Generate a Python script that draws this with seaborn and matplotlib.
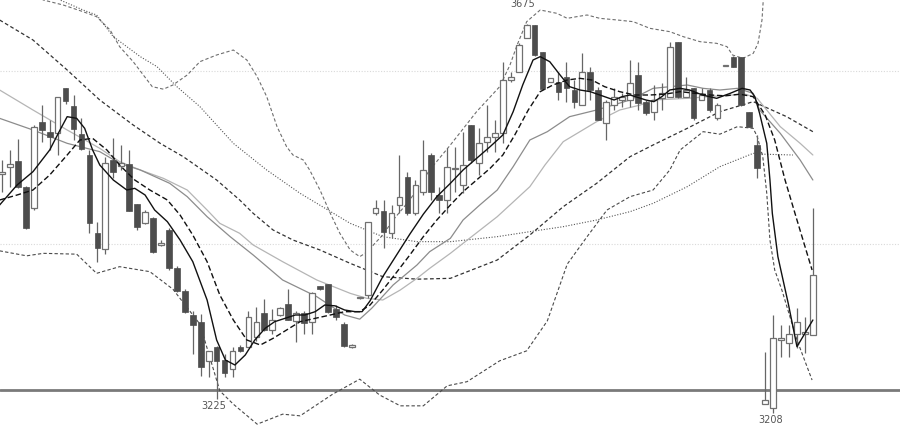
import numpy as np
import pandas as pd
import matplotlib
matplotlib.use("Agg")
import matplotlib.pyplot as plt
import seaborn as sns

# ---------------- candle data (price) ----------------
opens = [3495,3504,3511,3480,3454,3558,3546,3544,3598,3577,
         3543,3518,3424,3405,3512,3505,3507,3459,3436,3442,
         3410,3428,3382,3355,3326,3318,3271,3288,3272,3261,
         3288,3288,3300,3328,3308,3326,3339,3319,3328,3318,
         3361,3363,3333,3315,3288,3346,3350,3448,3451,3424,
         3458,3492,3448,3474,3518,3470,3464,3501,3482,3554,
         3508,3534,3540,3544,3608,3618,3658,3674,3642,3606,
         3606,3612,3596,3578,3618,3596,3556,3578,3584,3584,
         3614,3582,3570,3586,3588,3654,3588,3598,3584,3596,
         3562,3625,3636,3636,3570,3530,3219,3214,3296,3292,
         3303,3303,3302]
highs = [3512,3524,3537,3481,3554,3578,3560,3588,3598,3590,
         3562,3524,3438,3516,3538,3530,3524,3459,3452,3444,
         3416,3430,3385,3357,3331,3327,3283,3289,3279,3288,
         3290,3331,3336,3345,3333,3336,3357,3331,3331,3354,
         3361,3363,3338,3318,3291,3348,3438,3464,3464,3458,
         3518,3498,3488,3536,3520,3480,3526,3528,3546,3554,
         3550,3578,3560,3630,3618,3652,3675,3674,3642,3610,
         3618,3630,3608,3640,3624,3600,3584,3598,3592,3632,
         3630,3584,3602,3604,3654,3654,3612,3598,3598,3598,
         3580,3626,3637,3636,3570,3542,3282,3326,3314,3314,
         3334,3324,3454]
lows = [3474,3480,3478,3429,3452,3534,3524,3518,3579,3536,
        3524,3424,3390,3399,3490,3500,3451,3428,3435,3400,
        3409,3380,3354,3328,3279,3253,3252,3225,3252,3252,
        3282,3288,3295,3307,3303,3325,3320,3294,3303,3303,
        3356,3328,3320,3288,3286,3345,3346,3446,3406,3418,
        3448,3446,3446,3470,3464,3448,3448,3474,3472,3508,
        3494,3522,3522,3532,3606,3618,3658,3637,3597,3606,
        3584,3582,3574,3578,3584,3560,3536,3572,3576,3576,
        3572,3566,3560,3572,3588,3586,3588,3560,3584,3570,
        3560,3625,3624,3577,3552,3490,3219,3208,3276,3276,
        3286,3280,3302]
closes = [3498,3507,3480,3430,3552,3548,3540,3588,3583,3549,
          3525,3436,3406,3508,3498,3508,3451,3432,3450,3402,
          3412,3382,3355,3330,3314,3264,3283,3271,3256,3283,
          3283,3324,3318,3308,3320,3334,3320,3328,3316,3352,
          3357,3330,3324,3289,3290,3348,3438,3454,3426,3448,
          3468,3448,3482,3500,3474,3464,3504,3502,3506,3512,
          3532,3540,3544,3608,3612,3650,3674,3638,3597,3610,
          3594,3598,3582,3618,3596,3560,3582,3588,3588,3604,
          3580,3568,3584,3592,3648,3588,3596,3562,3590,3572,
          3578,3626,3624,3578,3552,3502,3224,3298,3298,3303,
          3318,3306,3374]

# ---------------- indicator lines (candle index, price) ----------------
ub_x = [2.3,5.2,7.7,10.2,11.9,13.6,14.8,16.5,18.9,20.3,21.5,23.3,24.9,27.0,29.1,30.8,32.1,33.3,34.6,35.8,
        36.6,37.9,38.7,40.0,41.3,42.5,43.8,45.0,46.0,46.9,47.9,49.2,51.3,53.8,56.4,59.7,62.6,63.9,64.8,66.0,
        67.7,69.8,71.1,72.3,73.6,75.2,77.4,79.4,81.5,84.0,85.7,87.8,89.9,91.2,91.9,93.2,94.5,95.1,95.6,95.8]
ub_y = [3722,3704,3698,3690,3684,3668,3648,3630,3600,3597,3602,3614,3630,3638,3644,3632,3612,3588,3552,3528,
        3518,3512,3500,3476,3448,3424,3404,3396,3402,3412,3422,3440,3464,3500,3530,3570,3600,3626,3650,3678,
        3692,3688,3682,3684,3686,3682,3680,3678,3670,3666,3660,3654,3652,3648,3638,3634,3640,3652,3680,3710]

lb_x = [-0.3,3.1,5.2,9.4,11.9,14.8,18.6,21.5,24.9,27.4,29.1,32.1,35.3,37.5,41.6,45.0,47.5,50.1,53.0,56.0,
        58.5,62.6,66.0,68.6,71.1,73.6,76.1,79.0,81.9,84.0,85.3,88.2,90.3,92.5,94.5,95.0,95.7,96.2,96.6,97.2,
        98.1,100.0,101.9]
lb_y = [3403,3397,3400,3399,3376,3384,3378,3357,3315,3235,3219,3195,3207,3205,3231,3249,3230,3217,3217,3241,
        3246,3271,3283,3319,3387,3420,3452,3468,3476,3500,3524,3546,3543,3552,3550,3540,3516,3472,3416,3380,
        3356,3296,3248]

ma5_x = [-0.3,1.9,3.9,6.0,7.3,8.2,9.4,10.4,11.4,12.3,14.0,15.7,16.7,18.0,19.2,20.8,22.4,24.0,25.8,27.0,
         28.1,29.3,30.6,31.8,33.1,34.3,35.6,36.9,38.1,39.4,40.6,41.9,43.1,44.4,45.3,46.3,47.9,49.7,51.3,53.0,
         54.7,56.4,58.0,59.7,61.4,63.0,64.3,65.5,66.8,67.7,68.9,70.2,71.4,72.7,74.0,75.2,77.0,78.0,79.0,81.0,
         82.0,83.0,84.0,85.3,86.5,88.1,89.9,91.6,93.1,94.1,94.7,95.3,96.2,96.6,96.9,97.6,98.9,100.0,102.0]
ma5_y = [3458,3482,3498,3524,3548,3564,3562,3550,3524,3506,3488,3476,3478,3470,3452,3438,3416,3390,3344,3296,
         3272,3266,3278,3296,3310,3318,3322,3326,3326,3330,3338,3337,3332,3330,3330,3343,3372,3399,3423,3447,
         3468,3484,3500,3514,3528,3542,3570,3602,3632,3636,3630,3614,3600,3596,3594,3590,3584,3588,3590,3584,
         3582,3588,3596,3598,3596,3590,3586,3592,3598,3596,3588,3568,3532,3488,3448,3396,3340,3288,3320]

ma10_x = [-0.3,1.9,3.9,6.0,8.2,9.8,11.4,13.2,14.8,16.7,18.6,20.8,22.4,24.0,25.8,27.4,29.1,30.8,32.5,34.1,
          35.8,37.5,39.4,41.3,43.1,45.0,46.3,47.9,49.7,51.3,53.0,54.7,56.4,58.0,59.7,61.4,63.0,64.5,66.2,67.7,
          69.3,71.1,72.7,74.2,75.8,77.7,79.6,81.5,83.4,85.3,87.2,89.1,91.0,92.8,94.5,96.0,97.2,98.5,100.0,101.9]
ma10_y = [3464,3470,3476,3494,3518,3536,3538,3524,3506,3488,3476,3464,3446,3422,3390,3350,3320,3296,3290,3298,
          3308,3318,3322,3326,3330,3330,3338,3356,3378,3398,3420,3440,3458,3474,3488,3502,3518,3542,3572,3594,
          3602,3608,3610,3608,3600,3594,3590,3590,3591,3594,3592,3590,3589,3591,3588,3566,3536,3488,3440,3380]

ma20_x = [-0.3,3.9,8.2,12.3,14.8,17.4,21.1,23.3,25.8,28.7,31.6,35.3,39.6,43.1,45.0,46.5,49.2,52.2,53.8,56.4,
          58.0,60.1,62.3,64.3,66.4,68.6,71.4,74.8,79.0,81.9,86.2,88.2,90.3,92.5,94.5,95.3,97.9,100.4,102.0]
ma20_y = [3562,3548,3532,3522,3508,3500,3484,3468,3444,3420,3398,3368,3348,3326,3321,3334,3362,3386,3402,3418,
          3440,3458,3476,3504,3536,3546,3564,3572,3584,3598,3602,3598,3596,3598,3592,3572,3544,3512,3488]

ma30_x = [-0.3,3.9,8.2,12.3,14.8,17.4,20.3,23.3,25.8,27.4,29.9,31.6,35.3,39.6,43.8,45.9,47.9,50.1,52.2,53.8,
          56.4,58.0,62.3,66.4,68.3,70.6,74.8,77.7,80.3,81.9,86.2,90.3,93.5,95.0,97.9,100.4,102.0]
ma30_y = [3596,3572,3548,3526,3510,3500,3490,3476,3452,3436,3424,3410,3390,3368,3352,3346,3344,3356,3370,3382,
          3400,3412,3444,3480,3506,3534,3558,3572,3578,3584,3586,3589,3591,3586,3552,3532,3518]

ma60_x = [-0.3,3.9,8.2,12.3,16.5,19.9,22.8,27.0,29.9,31.6,34.1,36.6,40.0,43.8,47.9,52.2,56.4,58.0,62.3,66.4,
          70.6,74.8,79.0,81.9,86.2,90.3,94.5,98.7,102.0]
ma60_y = [3680,3656,3620,3584,3554,3532,3516,3488,3464,3448,3428,3416,3404,3388,3372,3369,3370,3376,3392,3422,
          3456,3484,3516,3530,3550,3570,3582,3564,3546]

ma120_x = [4.8,7.3,10.2,11.9,14.0,17.4,19.5,22.0,24.9,29.1,33.3,37.5,39.6,43.8,47.9,52.2,56.4,62.3,66.4,70.6,
           74.8,79.0,81.9,86.2,90.3,94.5,95.7,99.5]
ma120_y = [3718,3704,3692,3686,3660,3636,3624,3600,3576,3532,3500,3472,3460,3436,3420,3414,3414,3420,3426,3432,
           3440,3450,3460,3480,3504,3520,3519,3518]

# reference levels and labels
ref_solid = 3236
ref_dotted = [3619, 3411]
labels = [("3675", 65.5, 3699), ("3225", 26.6, 3217), ("3208", 96.7, 3200)]

# ---------------- drawing ----------------
sns.set_theme(style="white")
plt.rcParams['font.family'] = ['DejaVu Sans']

fig = plt.figure(figsize=(9, 4.28), dpi=100)
ax = fig.add_axes([0, 0, 1, 1])
ax.set_xlim(-0.25, 112.96)
ax.set_ylim(3190.4, 3704)
ax.axis('off')

for lvl in ref_dotted:
    ax.axhline(lvl, color='#d9d9d9', lw=0.8, ls=(0, (1, 1.5)), zorder=0)
ax.axhline(ref_solid, color='#7a7a7a', lw=2.0, zorder=1)

line_specs = [
    (ub_x, ub_y, '#6e6e6e', 0.8, (0, (3, 2)), 2),
    (lb_x, lb_y, '#4a4a4a', 0.8, (0, (3, 2)), 2),
    (ma120_x, ma120_y, '#555555', 0.8, (0, (1, 1.5)), 2),
    (ma60_x, ma60_y, '#333333', 0.9, (0, (3, 2)), 2),
    (ma30_x, ma30_y, '#b5b5b5', 0.9, '-', 2),
    (ma20_x, ma20_y, '#8c8c8c', 0.9, '-', 2),
    (ma10_x, ma10_y, '#111111', 1.0, (0, (4, 2)), 5),
    (ma5_x, ma5_y, '#111111', 1.0, '-', 5),
]
for xs, ys, col, lw, ls, z in line_specs:
    sns.lineplot(x=xs, y=ys, ax=ax, color=col, linewidth=lw, linestyle=ls,
                 sort=False, estimator=None, legend=False, zorder=z)

o = np.array(opens, float); h = np.array(highs, float)
l = np.array(lows, float); c = np.array(closes, float)
idx = np.arange(len(o))
up = c >= o
ax.vlines(idx, l, h, color='#666666', lw=0.9, zorder=3)
bot = np.minimum(o, c)
hgt = np.maximum(np.abs(c - o), 1.2)
w = 0.72
ax.bar(idx[~up], hgt[~up], bottom=bot[~up], width=w, color='#4d4d4d',
       edgecolor='#4d4d4d', linewidth=0.5, zorder=4)
ax.bar(idx[up], hgt[up], bottom=bot[up], width=w, color='white',
       edgecolor='#707070', linewidth=0.9, zorder=4)

for txt, xi, yv in labels:
    ax.text(xi, yv, txt, ha='center', va='center', fontsize=7, color='#555555', zorder=6)

fig.savefig("out.png", dpi=100)
